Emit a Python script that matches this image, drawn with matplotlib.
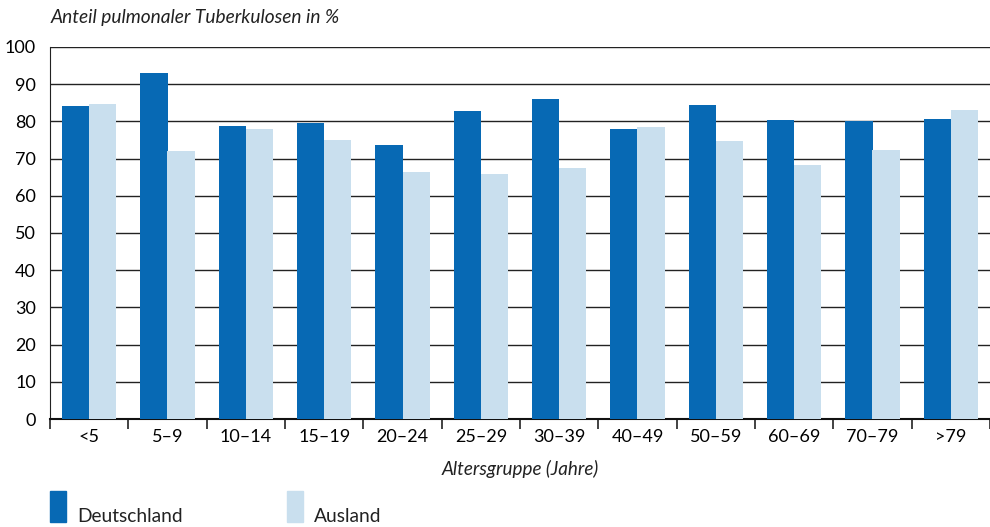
import numpy as np
import matplotlib
matplotlib.use("Agg")
import matplotlib.pyplot as plt
from matplotlib.patches import Rectangle

plt.rcParams['font.family'] = ['Lato', 'DejaVu Sans']

# Daten
gruppen = ["<5", "5–9", "10–14", "15–19", "20–24", "25–29", "30–39",
           "40–49", "50–59", "60–69", "70–79", ">79"]
deutschland = [84.1, 93.0, 78.8, 79.6, 73.7, 82.8, 85.9, 78.0, 84.5, 80.4, 80.0, 80.6]
ausland = [84.7, 72.0, 78.0, 75.0, 66.4, 65.9, 67.5, 78.4, 74.8, 68.3, 72.3, 83.1]
yticks = [0, 10, 20, 30, 40, 50, 60, 70, 80, 90, 100]

c_de = "#0769b4"
c_au = "#c9dfee"

fig = plt.figure(figsize=(9.9, 5.27), dpi=100)
ax = fig.add_axes([50/990, 1 - 419/527, 940/990, 372/527])

x = np.arange(len(gruppen))
w = 0.345
ax.bar(x - w/2, deutschland, w, color=c_de, zorder=3)
ax.bar(x + w/2, ausland, w, color=c_au, zorder=3)

ax.set_xlim(-0.5, len(gruppen) - 0.5)
ax.set_ylim(0, 100)
ax.set_yticks(yticks)
ax.yaxis.grid(True, color="#222222", linewidth=1.0, zorder=0)
ax.tick_params(axis="y", length=0, labelsize=13, pad=10)

# x-Ticks an Gruppengrenzen, Labels in der Mitte
ax.set_xticks(np.arange(len(gruppen) + 1) - 0.5)
ax.set_xticklabels([])
ax.set_xticks(x, minor=True)
ax.set_xticklabels(gruppen, minor=True, fontsize=13)
ax.tick_params(axis="x", which="major", length=7, width=1.2, color="#222222", direction="out")
ax.tick_params(axis="x", which="minor", length=0, pad=7)

for s in ["top", "right"]:
    ax.spines[s].set_visible(False)
ax.spines["left"].set_color("#222222")
ax.spines["bottom"].set_color("#111111")
ax.spines["bottom"].set_linewidth(1.5)

fig.text(51/990, 1 - 17/527, "Anteil pulmonaler Tuberkulosen in %", fontsize=13.8,
         style="italic", va="center", ha="left", color="#222222")
fig.text(520/990, 1 - 469/527, "Altersgruppe (Jahre)", fontsize=13.6,
         style="italic", va="center", ha="center", color="#222222")

# Legende
for px, farbe, name in [(50, c_de, "Deutschland"), (287, c_au, "Ausland")]:
    fig.add_artist(Rectangle((px/990, 1 - 522/527), 16/990, 31/527,
                             transform=fig.transFigure, color=farbe))
    fig.text((px + 27)/990, 1 - 517/527, name, fontsize=13.8, va="center",
             ha="left", color="#222222")

fig.savefig("out.png", dpi=100)
